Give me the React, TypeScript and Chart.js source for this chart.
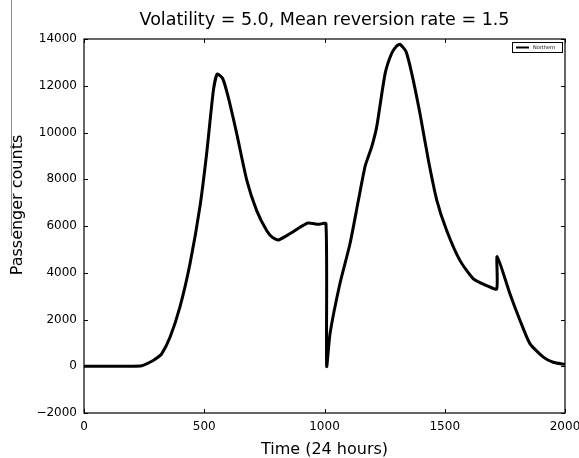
import React, { useEffect, useRef } from "react";
import { Chart, registerables } from "chart.js";

Chart.register(...registerables);

const TITLE = "Volatility = 5.0, Mean reversion rate = 1.5";
const X_LABEL = "Time (24 hours)";
const Y_LABEL = "Passenger counts";
const SERIES_LABEL = "Northern";

const timeValues = [
  0, 100, 200, 240, 274, 300, 323, 358, 399, 441, 482, 510, 538, 554, 577, 600,
  635, 677, 718, 760, 785, 808, 843, 870, 898, 932, 974, 1006, 1009, 1023, 1064,
  1106, 1141, 1170, 1196, 1217, 1252, 1279, 1300, 1314, 1339, 1363, 1397, 1432,
  1467, 1508, 1563, 1619, 1674, 1716, 1718, 1771, 1813, 1854, 1910, 1951, 2000,
];
const passengerCounts = [
  0, 0, 0, 20, 170, 330, 530, 1250, 2540, 4400, 6820, 9100, 11800, 12500, 12300,
  11500, 9950, 7950, 6660, 5800, 5500, 5400, 5590, 5750, 5950, 6130, 6070, 6100,
  0, 1400, 3530, 5240, 7100, 8600, 9380, 10240, 12520, 13380, 13700, 13770,
  13460, 12520, 10810, 8810, 7100, 5810, 4530, 3740, 3450, 3310, 4690, 3100,
  1960, 970, 390, 170, 80,
];

const X_MIN = 0;
const X_MAX = 2000;
const X_STEP = 500;
const Y_MIN = -2000;
const Y_MAX = 14000;
const Y_STEP = 2000;

const FONT = "'DejaVu Sans', sans-serif";

const fmt = (v: number) => (v < 0 ? "\u2212" + String(Math.abs(v)) : String(v));

const frameAndLegend = {
  id: "frameAndLegend",
  afterDraw(chart: any) {
    const { ctx, chartArea: a } = chart;
    const xs = chart.scales.x;
    const ys = chart.scales.y;
    ctx.save();
    ctx.strokeStyle = "#000";
    ctx.lineWidth = 1;
    const tl = 4;
    ctx.beginPath();
    xs.ticks.forEach((t: any) => {
      const px = Math.round(xs.getPixelForValue(t.value)) + 0.5;
      ctx.moveTo(px, a.bottom);
      ctx.lineTo(px, a.bottom - tl);
      ctx.moveTo(px, a.top);
      ctx.lineTo(px, a.top + tl);
    });
    ys.ticks.forEach((t: any) => {
      const py = Math.round(ys.getPixelForValue(t.value)) + 0.5;
      ctx.moveTo(a.left, py);
      ctx.lineTo(a.left + tl, py);
      ctx.moveTo(a.right, py);
      ctx.lineTo(a.right - tl, py);
    });
    ctx.stroke();
    ctx.lineWidth = 1.2;
    ctx.strokeRect(a.left, a.top, a.right - a.left, a.bottom - a.top);

    // legend box
    const bw = 50;
    const bh = 10;
    const bx = a.right - 3 - bw;
    const by = a.top + 3;
    ctx.fillStyle = "#fff";
    ctx.fillRect(bx, by, bw, bh);
    ctx.lineWidth = 1;
    ctx.strokeRect(bx + 0.5, by + 0.5, bw, bh);
    ctx.lineWidth = 2;
    ctx.beginPath();
    ctx.moveTo(bx + 4, by + bh / 2 + 0.5);
    ctx.lineTo(bx + 17, by + bh / 2 + 0.5);
    ctx.stroke();
    ctx.fillStyle = "#000";
    ctx.font = "5px " + FONT;
    ctx.textBaseline = "middle";
    ctx.textAlign = "left";
    ctx.fillText(chart.data.datasets[0].label, bx + 21, by + bh / 2 + 0.5);

    // y-axis title
    ctx.translate(18, 205);
    ctx.rotate(-Math.PI / 2);
    ctx.font = "16px " + FONT;
    ctx.textAlign = "center";
    ctx.textBaseline = "middle";
    ctx.fillText(Y_LABEL, 0, 0);
    ctx.restore();
  },
};

export default function App() {
  const ref = useRef<HTMLCanvasElement | null>(null);

  useEffect(() => {
    document.body.style.margin = "0";
    const canvas = ref.current;
    if (!canvas) return;
    const points = timeValues.map((x, i) => ({ x, y: passengerCounts[i] }));
    const chart = new Chart(canvas, {
      type: "line",
      data: {
        datasets: [
          {
            label: SERIES_LABEL,
            data: points,
            borderColor: "#000",
            backgroundColor: "#000",
            borderWidth: 3,
            pointRadius: 0,
            tension: 0.2,
            fill: false,
          },
        ],
      },
      options: {
        animation: false,
        responsive: false,
        maintainAspectRatio: false,
        parsing: false as any,
        layout: { padding: { left: 0, right: 14, top: 0, bottom: 0 } },
        plugins: {
          legend: { display: false },
          tooltip: { enabled: false },
          title: {
            display: true,
            fullSize: false,
            text: TITLE,
            color: "#000",
            font: { family: FONT, size: 17.5, weight: "normal" as any, lineHeight: 1.2 },
            padding: { top: 10, bottom: 8 },
          },
        },
        scales: {
          x: {
            type: "linear",
            min: X_MIN,
            max: X_MAX,
            grid: { display: false, drawTicks: false },
            border: { display: false },
            ticks: {
              stepSize: X_STEP,
              color: "#000",
              font: { family: FONT, size: 12 },
              padding: 7,
              maxRotation: 0,
              callback: (v: any) => fmt(Number(v)),
            },
            title: {
              display: true,
              text: X_LABEL,
              color: "#000",
              font: { family: FONT, size: 16 },
              padding: { top: 0, bottom: -1 },
            },
            afterFit(scale: any) {
              scale.height = 45;
              scale.paddingLeft = 0;
              scale.paddingRight = 0;
            },
          },
          y: {
            type: "linear",
            min: Y_MIN,
            max: Y_MAX,
            grid: { display: false, drawTicks: false },
            border: { display: false },
            ticks: {
              stepSize: Y_STEP,
              color: "#000",
              font: { family: FONT, size: 12 },
              padding: 7,
              callback: (v: any) => fmt(Number(v)),
            },
            title: { display: false },
            afterFit(scale: any) {
              scale.width = 84;
              scale.paddingTop = 0;
              scale.paddingBottom = 0;
            },
          },
        },
      },
      plugins: [frameAndLegend],
    });
    return () => chart.destroy();
  }, []);

  return (
    <div style={{ position: "relative", width: 579, height: 458, background: "#fff" }}>
      <canvas ref={ref} width={579} height={458} style={{ display: "block" }} />
      <div
        style={{
          position: "absolute",
          left: 11,
          top: 0,
          width: 1,
          height: 236,
          background: "#8a8a8a",
        }}
      />
    </div>
  );
}
